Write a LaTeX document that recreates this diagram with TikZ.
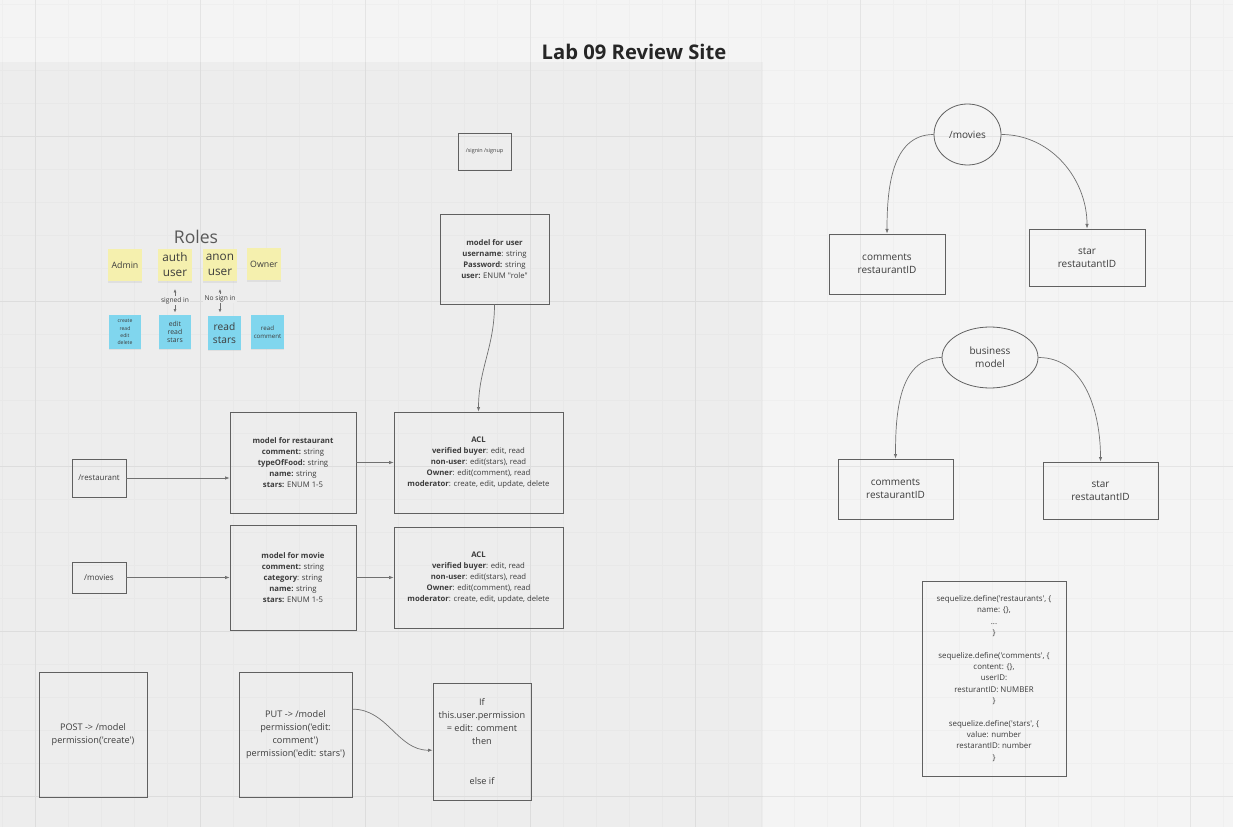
\documentclass[tikz,border=0pt]{standalone}
\usepackage{fontspec}
\setmainfont{Open Sans}[Ligatures=TeXOff]
\usetikzlibrary{arrows.meta,shapes.geometric,shadows}

\definecolor{canvas}{HTML}{F4F4F4}
\definecolor{panel}{HTML}{EDEDED}
\definecolor{ink}{HTML}{3C3C3C}
\definecolor{edge}{HTML}{606060}
\definecolor{notey}{HTML}{F5F0AE}
\definecolor{noteb}{HTML}{80D6EE}
\newcommand{\fsz}[2]{\fontsize{#1}{#2}\selectfont}

\tikzset{
	box/.style={draw=edge, line width=0.5pt, inner sep=0pt, align=center, text=ink},
	oval/.style={box, ellipse, line width=0.45pt},
	note/.style={fill=#1, inner sep=0pt, align=center, text=ink,
		minimum width=0.68cm, minimum height=0.66cm,
		drop shadow={opacity=0.12, shadow xshift=0pt, shadow yshift=-0.7pt}},
	permnote/.style={note=noteb, minimum width=0.66cm, minimum height=0.68cm},
	link/.style={draw=edge!90, line width=0.4pt, -{Latex[length=2.6pt,width=2pt]}},
	twolink/.style={draw=edge!90, line width=0.4pt, >={Latex[length=2pt,width=1.6pt]}, <->},
	field/.style={font=\fsz{4.4}{6.2}},
	code/.style={font=\fsz{5.2}{7.5}},
	entity/.style={font=\fsz{5.7}{7.5}},
}

\begin{document}
\begin{tikzpicture}[x=0.02cm, y=-0.02cm]
	\useasboundingbox (0,0) rectangle (1233,827);
	\fill [canvas] (0,0) rectangle (1233,827);
	\fill [panel] (0,62) rectangle (763,827);
	% grid
	\draw [black, opacity=0.018, line width=0.4pt] \foreach \x in {2,35,...,1232} {(\x,0) -- (\x,827)}
		\foreach \y in {4,37,...,826} {(0,\y) -- (1233,\y)};
	\draw [black, opacity=0.045, line width=0.5pt] \foreach \x in {35,200,...,1190} {(\x,0) -- (\x,827)}
		\foreach \y in {136,301,...,796} {(0,\y) -- (1233,\y)};

	\node (title) at (634,52) [text=black!85, font=\fsz{11.5}{14}\bfseries] {Lab 09 Review Site};

	% roles
	\node (roles) at (196,237) [text=black!65, font=\fsz{10}{12}] {Roles};
	\node (admin) at (125,265) [note=notey, font=\fsz{5}{6}] {Admin};
	\node (auth) at (175,265) [note=notey, font=\fsz{6.7}{8.5}] {auth\\user};
	\node (anon) at (220,265) [note=notey, font=\fsz{6.7}{8.5}] {anon\\user};
	\node (owner) at (264,264) [note=notey, font=\fsz{5}{6}] {Owner};
	\node (adminperm) at (125,332) [permnote, font=\fsz{2.9}{4.1}] {create\\read\\edit\\delete};
	\node (authperm) at (175,332) [permnote, font=\fsz{3.9}{4.7}] {edit\\read\\stars};
	\node (anonperm) at (224.5,333) [permnote, font=\fsz{5.8}{7.4}] {read\\stars};
	\node (ownerperm) at (267.5,332) [permnote, font=\fsz{3.5}{4.7}] {read\\comment};
	\draw [twolink, shorten <=0.14cm, shorten >=0.04cm] (auth.south) -- node [pos=0.57, fill=panel, inner sep=0.6pt, text=ink, font=\fsz{3.8}{4.5}] {signed in} (authperm.north);
	\draw [twolink, shorten <=0.14cm, shorten >=0.06cm] (anon.south) -- node [pos=0.5, fill=panel, inner sep=0.6pt, text=ink, font=\fsz{3.8}{4.5}] {No sign in} (anon.south |- anonperm.north);

	% users
	\node (signin) at (484.5,151.5) [box, font=\fsz{3.1}{4}, minimum width=1.06cm, minimum height=0.74cm] {/signin /signup};
	\node (user) at (494.5,259) [box, field, minimum width=2.18cm, minimum height=1.8cm]
		{\textbf{model for user}\\\textbf{username}: string\\\textbf{Password:} string\\\textbf{user:} ENUM "role"};

	% restaurants
	\node (rest) at (99,478) [box, font=\fsz{4.5}{5.5}, minimum width=1.08cm, minimum height=0.76cm] {/restaurant};
	\node (rmodel) at (293,462.5) [box, field, minimum width=2.52cm, minimum height=2.02cm]
		{\textbf{model for restaurant}\\\textbf{comment:} string\\\textbf{typeOfFood:} string\\\textbf{name:} string\\\textbf{stars:} ENUM 1-5};
	\node (acl1) at (478.5,462.5) [box, field, minimum width=3.38cm, minimum height=2.02cm]
		{\textbf{ACL}\\\textbf{verified buyer}: edit, read\\\textbf{non-user}: edit(stars), read\\\textbf{Owner}: edit(comment), read\\\textbf{moderator}: create, edit, update, delete};
	\draw [link] (rest.east) -- (rest.east -| rmodel.west);
	\draw [link] (rmodel.east) -- (acl1.west);
	\draw [link] (user.south) to [out=-90, in=90] (acl1.north);

	% movies
	\node (movies) at (99,577.5) [box, font=\fsz{4.6}{5.5}, minimum width=1.08cm, minimum height=0.62cm] {/movies};
	\node (mmodel) at (293,577.5) [box, field, minimum width=2.52cm, minimum height=2.1cm]
		{\textbf{model for movie}\\\textbf{comment:} string\\\textbf{category}: string\\\textbf{name:} string\\\textbf{stars:} ENUM 1-5};
	\node (acl2) at (478.5,577.5) [box, field, minimum width=3.38cm, minimum height=2.02cm]
		{\textbf{ACL}\\\textbf{verified buyer}: edit, read\\\textbf{non-user}: edit(stars), read\\\textbf{Owner}: edit(comment), read\\\textbf{moderator}: create, edit, update, delete};
	\draw [link] (movies) -- (mmodel);
	\draw [link] (mmodel) -- (acl2);

	% requests
	\node (post) at (93,734.5) [box, code, minimum width=2.16cm, minimum height=2.5cm] {POST -> /model\\permission('create')};
	\node (put) at (295.5,734.5) [box, code, minimum width=2.26cm, minimum height=2.5cm]
		{PUT -> /model\\permission('edit:\\comment')\\permission('edit: stars')};
	\node (ifbox) at (482,741.5) [box, code, minimum width=1.96cm, minimum height=2.34cm]
		{If\\this.user.permission\\= edit: comment\\then\\[15pt]else if};
	\draw [link] (put.24) to [out=0, in=180] (ifbox.190);

	% tables
	\node (movr) at (967.5,134.5) [oval, entity, minimum width=1.34cm, minimum height=1.22cm] {/movies};
	\node (cmt1) at (887,264) [box, entity, minimum width=2.32cm, minimum height=1.2cm] {comments\\restaurantID};
	\node (star1) at (1087,257.5) [box, entity, minimum width=2.32cm, minimum height=1.14cm] {star\\restautantID};
	\draw [link] (movr.west) to [out=180, in=90] (cmt1.north);
	\draw [link] (movr.east) to [out=0, in=90] (star1.north);

	\node (biz) at (990,357.5) [oval, entity, minimum width=1.92cm, minimum height=1.22cm] {business\\model};
	\node (cmt2) at (895.5,489) [box, entity, minimum width=2.3cm, minimum height=1.2cm] {comments\\restaurantID};
	\node (star2) at (1100.5,490.5) [box, entity, minimum width=2.3cm, minimum height=1.14cm] {star\\restautantID};
	\draw [link] (biz.west) to [out=180, in=90] (cmt2.north);
	\draw [link] (biz.east) to [out=0, in=90] (star2.north);

	\node (seq) at (994,678.5) [box, font=\fsz{4.5}{6.45}, minimum width=2.88cm, minimum height=3.9cm]
		{sequelize.define('restaurants', \{\\name: \{\},\\...\\\}\\[6.45pt]
		sequelize.define('comments', \{\\content: \{\},\\userID:\\resturantID: NUMBER\\\}\\[6.45pt]
		sequelize.define('stars', \{\\value: number\\restarantID: number\\\}};
\end{tikzpicture}
\end{document}
